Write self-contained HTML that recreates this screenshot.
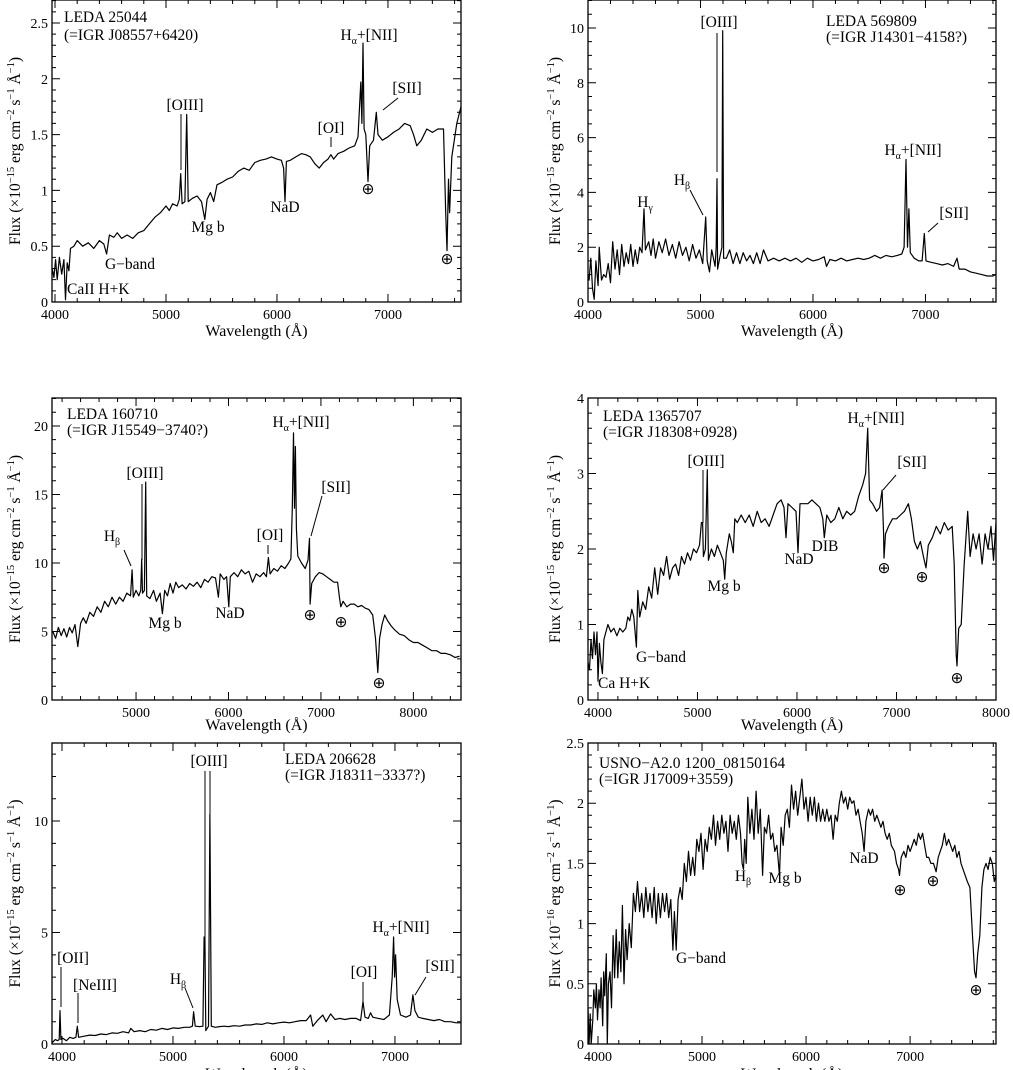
<!DOCTYPE html>
<html><head><meta charset="utf-8"><title>Optical spectra of six galaxies</title>
<style>
html,body{margin:0;padding:0;background:#fff;}
svg{display:block;}
text{font-family:"Liberation Serif",serif;fill:#000;}
.ann{font-size:15.5px;}
.tick{font-size:14px;}
.axt{font-size:16px;}
.yaxt{font-size:15.5px;}
</style></head>
<body>
<svg id="fig" width="1013" height="1070" viewBox="0 0 1013 1070" xmlns="http://www.w3.org/2000/svg">
<defs>
<clipPath id="c1"><rect x="52" y="0" width="409" height="302"/></clipPath>
<clipPath id="c2"><rect x="588" y="0" width="408" height="302"/></clipPath>
<clipPath id="c3"><rect x="52" y="398" width="409" height="302"/></clipPath>
<clipPath id="c4"><rect x="588" y="398" width="408" height="302"/></clipPath>
<clipPath id="c5"><rect x="52" y="743" width="409" height="301"/></clipPath>
<clipPath id="c6"><rect x="588" y="743" width="408" height="301"/></clipPath>
</defs>
<g id="axes"></g>
<g id="annotations" stroke="#000" stroke-width="1" fill="none">
<g>
<text class="ann" x="64" y="22" stroke="none">LEDA 25044</text>
<text class="ann" x="64" y="40" stroke="none">(=IGR J08557+6420)</text>
<text class="ann" x="185" y="110" text-anchor="middle" stroke="none">[OIII]</text>
<line x1="181" y1="114" x2="181" y2="170"/>
<text class="ann" x="208" y="232" text-anchor="middle" stroke="none">Mg b</text>
<text class="ann" x="285" y="212" text-anchor="middle" stroke="none">NaD</text>
<text class="ann" x="331" y="133" text-anchor="middle" stroke="none">[OI]</text>
<line x1="331" y1="137" x2="331" y2="147"/>
<text class="ann" x="369" y="40" text-anchor="middle" stroke="none">H<tspan font-size="10" dy="4">α</tspan><tspan dy="-4">+[NII]</tspan></text>
<text class="ann" x="407" y="93" text-anchor="middle" stroke="none">[SII]</text>
<line x1="398" y1="98" x2="383" y2="110"/>
<text class="ann" x="368" y="194" text-anchor="middle" stroke="none">⊕</text>
<text class="ann" x="447" y="264" text-anchor="middle" stroke="none">⊕</text>
<text class="ann" x="130" y="269" text-anchor="middle" stroke="none">G−band</text>
<text class="ann" x="67" y="294" stroke="none">CaII H+K</text>
</g>
<g>
<text class="ann" x="826" y="26" stroke="none">LEDA 569809</text>
<text class="ann" x="826" y="42" stroke="none">(=IGR J14301−4158?)</text>
<text class="ann" x="719" y="27" text-anchor="middle" stroke="none">[OIII]</text>
<line x1="717" y1="33" x2="717" y2="172"/>
<text class="ann" x="645" y="207" text-anchor="middle" stroke="none">H<tspan font-size="10" dy="4">γ</tspan></text>
<text class="ann" x="682" y="185" text-anchor="middle" stroke="none">H<tspan font-size="10" dy="4">β</tspan></text>
<line x1="690" y1="190" x2="703" y2="215"/>
<text class="ann" x="913" y="155" text-anchor="middle" stroke="none">H<tspan font-size="10" dy="4">α</tspan><tspan dy="-4">+[NII]</tspan></text>
<text class="ann" x="954" y="218" text-anchor="middle" stroke="none">[SII]</text>
<line x1="938" y1="223" x2="928" y2="232"/>
</g>
<g>
<text class="ann" x="67" y="419" stroke="none">LEDA 160710</text>
<text class="ann" x="67" y="435" stroke="none">(=IGR J15549−3740?)</text>
<text class="ann" x="145" y="478" text-anchor="middle" stroke="none">[OIII]</text>
<line x1="142" y1="484" x2="142" y2="560"/>
<text class="ann" x="112" y="541" text-anchor="middle" stroke="none">H<tspan font-size="10" dy="4">β</tspan></text>
<line x1="124" y1="550" x2="131" y2="566"/>
<text class="ann" x="165" y="628" text-anchor="middle" stroke="none">Mg b</text>
<text class="ann" x="230" y="618" text-anchor="middle" stroke="none">NaD</text>
<text class="ann" x="270" y="540" text-anchor="middle" stroke="none">[OI]</text>
<line x1="268" y1="545" x2="268" y2="554"/>
<text class="ann" x="301" y="427" text-anchor="middle" stroke="none">H<tspan font-size="10" dy="4">α</tspan><tspan dy="-4">+[NII]</tspan></text>
<text class="ann" x="336" y="492" text-anchor="middle" stroke="none">[SII]</text>
<line x1="322" y1="496" x2="311" y2="536"/>
<text class="ann" x="310" y="620" text-anchor="middle" stroke="none">⊕</text>
<text class="ann" x="341" y="627" text-anchor="middle" stroke="none">⊕</text>
<text class="ann" x="379" y="688" text-anchor="middle" stroke="none">⊕</text>
</g>
<g>
<text class="ann" x="603" y="421" stroke="none">LEDA 1365707</text>
<text class="ann" x="603" y="437" stroke="none">(=IGR J18308+0928)</text>
<text class="ann" x="706" y="466" text-anchor="middle" stroke="none">[OIII]</text>
<line x1="703" y1="470" x2="703" y2="523"/>
<text class="ann" x="724" y="591" text-anchor="middle" stroke="none">Mg b</text>
<text class="ann" x="799" y="564" text-anchor="middle" stroke="none">NaD</text>
<text class="ann" x="825" y="551" text-anchor="middle" stroke="none">DIB</text>
<text class="ann" x="876" y="423" text-anchor="middle" stroke="none">H<tspan font-size="10" dy="4">α</tspan><tspan dy="-4">+[NII]</tspan></text>
<text class="ann" x="912" y="467" text-anchor="middle" stroke="none">[SII]</text>
<line x1="896" y1="475" x2="883" y2="490"/>
<text class="ann" x="884" y="573" text-anchor="middle" stroke="none">⊕</text>
<text class="ann" x="922" y="582" text-anchor="middle" stroke="none">⊕</text>
<text class="ann" x="957" y="683" text-anchor="middle" stroke="none">⊕</text>
<text class="ann" x="661" y="662" text-anchor="middle" stroke="none">G−band</text>
<text class="ann" x="598" y="688" stroke="none">Ca H+K</text>
</g>
<g>
<text class="ann" x="285" y="764" stroke="none">LEDA 206628</text>
<text class="ann" x="285" y="780" stroke="none">(=IGR J18311−3337?)</text>
<text class="ann" x="209" y="766" text-anchor="middle" stroke="none">[OIII]</text>
<line x1="205" y1="771" x2="205" y2="937"/>
<line x1="210" y1="771" x2="210" y2="822"/>
<text class="ann" x="73" y="963" text-anchor="middle" stroke="none">[OII]</text>
<line x1="61" y1="967" x2="61" y2="1007"/>
<text class="ann" x="95" y="990" text-anchor="middle" stroke="none">[NeIII]</text>
<line x1="78" y1="993" x2="78" y2="1023"/>
<text class="ann" x="178" y="984" text-anchor="middle" stroke="none">H<tspan font-size="10" dy="4">β</tspan></text>
<line x1="185" y1="988" x2="193" y2="1008"/>
<text class="ann" x="364" y="977" text-anchor="middle" stroke="none">[OI]</text>
<line x1="363" y1="982" x2="363" y2="1005"/>
<text class="ann" x="401" y="932" text-anchor="middle" stroke="none">H<tspan font-size="10" dy="4">α</tspan><tspan dy="-4">+[NII]</tspan></text>
<text class="ann" x="440" y="971" text-anchor="middle" stroke="none">[SII]</text>
<line x1="426" y1="977" x2="415" y2="995"/>
</g>
<g>
<text class="ann" x="599" y="768" stroke="none">USNO−A2.0 1200_08150164</text>
<text class="ann" x="599" y="784" stroke="none">(=IGR J17009+3559)</text>
<text class="ann" x="701" y="963" text-anchor="middle" stroke="none">G−band</text>
<text class="ann" x="743" y="881" text-anchor="middle" stroke="none">H<tspan font-size="10" dy="4">β</tspan></text>
<text class="ann" x="785" y="883" text-anchor="middle" stroke="none">Mg b</text>
<text class="ann" x="864" y="863" text-anchor="middle" stroke="none">NaD</text>
<text class="ann" x="900" y="895" text-anchor="middle" stroke="none">⊕</text>
<text class="ann" x="933" y="886" text-anchor="middle" stroke="none">⊕</text>
<text class="ann" x="976" y="995" text-anchor="middle" stroke="none">⊕</text>
</g>
</g>
</svg>
<script>
const p1Wave = [3975,3990,4005,4020,4040,4060,4080,4095,4110,4125,4140,4170,4200,4250,4300,4350,4400,4440,4465,4490,4530,4560,4600,4650,4700,4750,4800,4850,4900,4950,5000,5030,5060,5100,5120,5133,5145,5170,5187,5200,5240,5280,5320,5350,5370,5400,5430,5460,5500,5550,5600,5650,5700,5750,5800,5850,5900,5950,6000,6040,6060,6072,6085,6120,6170,6220,6260,6300,6340,6380,6420,6460,6486,6510,6550,6600,6650,6700,6730,6755,6765,6775,6785,6800,6820,6835,6870,6895,6910,6950,7000,7050,7100,7150,7200,7230,7260,7300,7350,7400,7450,7500,7520,7532,7545,7555,7575,7620,7658];
const p1Flux = [0.3,0.22,0.38,0.2,0.4,0.25,0.38,0.02,0.35,0.28,0.48,0.5,0.55,0.5,0.53,0.48,0.55,0.52,0.43,0.6,0.58,0.62,0.57,0.6,0.57,0.62,0.64,0.7,0.76,0.8,0.86,0.82,0.88,0.86,0.92,1.15,0.88,0.9,1.68,0.9,0.93,0.95,0.9,0.74,0.92,0.98,0.9,1.05,1.07,1.1,1.12,1.17,1.2,1.18,1.25,1.27,1.28,1.3,1.28,1.27,1.2,0.9,1.26,1.27,1.3,1.33,1.32,1.3,1.24,1.2,1.25,1.28,1.32,1.28,1.33,1.35,1.38,1.4,1.48,1.97,1.6,2.32,1.55,1.5,1.08,1.4,1.45,1.7,1.5,1.45,1.48,1.52,1.55,1.6,1.58,1.5,1.4,1.45,1.55,1.52,1.55,1.55,0.8,0.46,1.1,0.8,1.3,1.6,1.75];
const p1XTicks = [4000,5000,6000,7000];
const p1YTicks = [0,0.5,1,1.5,2,2.5];
const p1YLabels = ['0','0.5','1','1.5','2','2.5'];
const p2Wave = [3990,4010,4025,4040,4055,4070,4090,4100,4120,4140,4160,4180,4200,4220,4240,4260,4280,4300,4320,4340,4360,4380,4400,4420,4440,4460,4480,4498,4510,4540,4560,4580,4600,4630,4660,4690,4720,4750,4780,4810,4840,4870,4900,4930,4960,4990,5020,5046,5060,5080,5100,5130,5140,5147,5152,5175,5190,5197,5205,5230,5260,5290,5320,5350,5380,5410,5440,5470,5500,5530,5560,5600,5650,5700,5750,5800,5850,5900,5950,6000,6050,6100,6120,6150,6200,6250,6300,6350,6400,6450,6500,6550,6600,6650,6700,6750,6790,6810,6827,6840,6853,6865,6900,6940,6970,6990,7005,7050,7100,7150,7200,7250,7280,7300,7350,7400,7450,7500,7550,7600,7625];
const p2Flux = [1.2,0.8,1.6,0.5,0.1,1.5,0.6,2.0,0.8,1.0,0.9,1.4,0.7,2.2,1.2,1.9,1.0,2.1,1.3,1.8,1.4,2.1,1.3,1.9,1.4,2.0,1.8,3.4,1.9,2.2,1.7,2.3,1.6,2.2,1.8,2.3,1.7,2.1,1.6,2.2,1.7,2.0,1.5,2.1,1.6,1.9,1.4,3.1,1.5,1.1,1.9,1.3,2.0,4.5,1.2,1.7,2.0,9.9,1.6,1.6,1.9,1.4,1.8,1.4,1.8,1.5,1.7,1.4,1.8,1.4,1.9,1.5,1.6,1.5,1.6,1.5,1.6,1.45,1.6,1.5,1.55,1.65,1.3,1.55,1.5,1.6,1.5,1.55,1.6,1.55,1.6,1.7,1.6,1.7,1.65,1.7,1.75,2.0,5.2,2.0,3.4,1.8,1.6,1.5,1.5,2.5,1.5,1.45,1.4,1.35,1.4,1.3,1.6,1.2,1.2,1.1,1.05,1.0,0.95,0.95,1.0];
const p2XTicks = [4000,5000,6000,7000];
const p2YTicks = [0,2,4,6,8,10];
const p2YLabels = ['0','2','4','6','8','10'];
const p3Wave = [4100,4130,4160,4190,4220,4250,4280,4310,4340,4370,4400,4430,4460,4500,4540,4580,4620,4660,4700,4740,4780,4820,4860,4900,4940,4957,4970,5000,5030,5050,5061,5070,5090,5105,5115,5150,5190,5220,5260,5285,5310,5340,5370,5400,5430,5460,5500,5540,5580,5620,5660,5700,5740,5780,5820,5860,5891,5910,5950,5980,6003,6020,6060,6100,6140,6180,6220,6260,6300,6340,6380,6410,6432,6450,6490,6530,6570,6610,6650,6675,6690,6703,6714,6724,6735,6750,6790,6830,6860,6876,6883,6900,6940,6980,7020,7060,7100,7140,7180,7200,7215,7240,7280,7320,7360,7400,7440,7480,7520,7560,7590,7615,7635,7660,7690,7720,7760,7800,7850,7900,7950,8000,8050,8100,8150,8200,8250,8300,8350,8400,8450,8500];
const p3Flux = [5.0,4.5,5.3,4.7,5.2,4.6,5.3,4.9,5.5,3.9,5.6,6.0,5.6,6.4,6.1,6.8,6.4,7.2,6.8,7.5,7.0,7.5,7.2,7.8,7.6,9.5,7.5,8.0,7.6,8.0,10.3,7.8,8.0,15.9,7.6,7.4,8.0,7.2,7.8,6.3,8.0,7.6,8.5,7.8,8.6,8.2,8.4,8.1,8.5,8.3,8.6,8.2,8.8,8.6,9.0,8.9,7.5,9.2,8.8,9.0,6.8,9.0,9.3,9.0,9.5,9.2,9.4,8.6,9.2,9.0,9.3,9.0,10.4,9.2,9.6,9.4,9.8,9.6,10.0,10.3,14.0,19.5,14.0,18.5,12.5,10.5,10.0,9.6,10.2,11.8,7.0,8.5,9.0,9.3,9.2,9.0,8.8,8.6,8.6,7.5,6.8,7.2,6.8,7.0,7.0,6.8,6.9,6.7,6.6,6.2,4.5,2.0,4.5,5.5,6.2,5.8,5.4,5.1,4.8,4.7,4.4,4.2,4.2,4.0,3.8,3.6,3.6,3.4,3.4,3.3,3.1,3.2];
const p3XTicks = [5000,6000,7000,8000];
const p3YTicks = [0,5,10,15,20];
const p3YLabels = ['0','5','10','15','20'];
const p4Wave = [3900,3915,3930,3945,3960,3975,3990,4000,4015,4030,4045,4060,4080,4100,4130,4160,4190,4220,4250,4280,4300,4320,4340,4360,4386,4400,4420,4450,4480,4510,4540,4570,4600,4630,4660,4690,4720,4750,4780,4810,4840,4870,4900,4930,4960,4990,5020,5040,5052,5060,5080,5099,5110,5140,5170,5200,5230,5260,5274,5290,5320,5340,5360,5375,5400,5440,5480,5520,5560,5600,5640,5680,5720,5760,5800,5840,5870,5890,5910,5950,5990,6010,6030,6070,6110,6150,6190,6230,6260,6275,6300,6340,6380,6420,6460,6500,6540,6580,6620,6660,6690,6711,6730,6760,6800,6830,6855,6870,6875,6890,6920,6960,7000,7040,7080,7120,7150,7180,7210,7240,7270,7297,7320,7360,7400,7440,7480,7520,7560,7580,7600,7608,7625,7650,7680,7716,7740,7770,7800,7830,7860,7890,7920,7950,7975,8000];
const p4Flux = [0.5,0.4,0.8,0.55,0.9,0.6,0.9,0.25,0.75,0.5,0.35,0.8,0.9,1.0,0.9,0.95,0.85,0.95,0.9,0.95,1.1,1.05,1.2,1.1,0.7,1.45,1.1,1.3,1.2,1.5,1.35,1.75,1.4,1.75,1.65,1.9,1.6,1.75,1.8,1.65,1.9,1.8,1.95,1.85,2.0,1.95,2.05,2.35,2.35,1.9,2.0,3.05,1.85,2.0,1.9,2.05,1.95,1.85,1.6,1.95,2.2,2.1,1.95,2.4,2.35,2.45,2.35,2.45,2.3,2.5,2.35,2.4,2.3,2.45,2.6,2.65,2.55,2.15,2.6,2.55,2.5,1.95,2.6,2.6,2.6,2.65,2.6,2.55,2.4,2.15,2.45,2.35,2.4,2.55,2.4,2.5,2.45,2.5,2.7,2.85,3.0,3.6,2.65,2.6,2.5,2.55,2.78,2.2,1.88,2.2,2.3,2.4,2.4,2.45,2.5,2.6,2.4,2.1,2.0,2.1,1.9,1.75,2.05,2.15,2.3,2.2,2.35,2.25,2.3,1.8,0.6,0.45,0.95,1.0,1.8,2.5,1.9,2.2,2.0,2.2,1.8,2.2,2.0,2.3,1.85,2.35];
const p4XTicks = [4000,5000,6000,7000,8000];
const p4YTicks = [0,1,2,3,4];
const p4YLabels = ['0','1','2','3','4'];
const p5Wave = [3910,3940,3960,3975,3982,3990,4010,4040,4070,4100,4125,4138,4150,4200,4250,4300,4350,4400,4450,4500,4550,4600,4620,4650,4700,4750,4800,4850,4900,4950,5000,5050,5100,5150,5175,5186,5200,5240,5270,5280,5288,5296,5320,5333,5345,5380,5420,5460,5500,5550,5600,5650,5700,5750,5800,5850,5900,5950,6000,6050,6100,6150,6200,6240,6260,6300,6350,6380,6420,6460,6500,6550,6600,6650,6690,6712,6730,6760,6780,6800,6850,6900,6950,6975,6988,6997,7006,7020,7050,7100,7140,7162,7180,7210,7250,7300,7350,7400,7450,7500,7550,7600];
const p5Flux = [0.05,0.2,0.15,0.2,1.5,0.2,0.25,0.15,0.3,0.25,0.3,0.8,0.3,0.35,0.4,0.38,0.45,0.42,0.5,0.48,0.55,0.5,0.7,0.55,0.6,0.55,0.65,0.62,0.7,0.65,0.72,0.7,0.75,0.75,0.8,1.45,0.8,0.78,0.8,4.8,4.8,0.6,0.8,10.3,0.8,0.75,0.78,0.8,0.78,0.82,0.8,0.85,0.85,0.9,0.88,0.95,0.9,0.95,0.98,0.95,1.0,1.05,1.05,1.3,0.8,1.05,1.3,1.0,1.35,1.1,1.15,1.1,1.15,1.15,1.05,1.9,1.2,1.15,1.4,1.2,1.15,1.1,1.3,3.0,4.8,3.0,4.0,2.0,1.3,1.2,1.3,2.2,1.5,1.2,1.15,1.1,1.05,1.1,1.0,1.0,0.95,0.95];
const p5XTicks = [4000,5000,6000,7000];
const p5YTicks = [0,5,10];
const p5YLabels = ['0','5','10'];
const p6Wave = [3904,3915,3925,3935,3950,3960,3975,3985,3995,4010,4020,4030,4045,4055,4065,4080,4090,4100,4115,4130,4145,4160,4175,4190,4205,4220,4235,4250,4265,4280,4300,4320,4340,4360,4380,4400,4420,4440,4460,4480,4500,4520,4540,4560,4580,4600,4620,4640,4660,4680,4700,4720,4735,4752,4770,4790,4810,4830,4850,4870,4890,4910,4930,4950,4970,4990,5010,5030,5050,5070,5090,5110,5130,5150,5170,5190,5210,5230,5250,5270,5290,5310,5330,5350,5370,5385,5399,5410,5425,5440,5460,5480,5500,5520,5540,5560,5582,5600,5620,5640,5660,5680,5700,5720,5745,5760,5780,5800,5820,5840,5860,5880,5900,5920,5940,5960,5980,6000,6020,6040,6060,6080,6100,6120,6140,6160,6180,6200,6220,6240,6260,6280,6300,6320,6340,6360,6380,6400,6420,6440,6460,6480,6500,6520,6540,6558,6575,6600,6620,6640,6660,6680,6700,6720,6740,6760,6780,6800,6820,6850,6870,6890,6898,6915,6940,6960,6980,7000,7020,7040,7060,7080,7100,7120,7140,7160,7180,7200,7225,7250,7270,7290,7310,7330,7350,7370,7390,7410,7430,7450,7470,7490,7510,7530,7550,7575,7600,7620,7634,7650,7670,7690,7710,7730,7750,7770,7790,7810,7826];
const p6Flux = [0.3,0.0,0.25,0.0,0.2,0.45,0.3,0.5,0.2,0.45,0.3,0.55,0.15,0.6,0.4,0.75,0.0,0.5,0.6,0.3,0.9,0.55,0.95,0.55,0.85,0.6,1.15,0.5,0.95,0.7,1.0,0.8,1.25,1.1,1.35,1.1,1.25,1.05,1.3,1.1,1.25,1.05,1.3,1.0,1.25,1.05,1.25,1.1,1.25,1.05,1.2,0.78,1.1,0.78,1.2,1.3,1.2,1.5,1.35,1.6,1.4,1.55,1.4,1.7,1.6,1.75,1.45,1.7,1.6,1.8,1.7,1.9,1.65,1.85,1.7,1.9,1.75,1.85,1.6,1.9,1.75,1.85,1.7,1.9,1.75,1.5,1.45,1.7,1.5,2.05,1.75,1.95,1.7,2.1,1.75,1.95,1.4,1.8,1.75,1.9,1.7,1.75,1.6,1.65,1.4,1.8,1.65,1.9,1.95,1.8,2.15,1.95,2.1,1.9,2.05,2.2,1.95,2.05,1.85,2.05,1.9,2.05,1.85,2.0,1.85,1.95,1.85,1.95,1.85,1.9,1.7,1.9,1.85,2.0,2.1,2.0,2.05,1.95,2.05,2.0,2.02,1.9,1.95,1.85,1.75,1.6,1.85,1.95,1.9,1.95,1.85,1.9,1.85,1.8,1.85,1.75,1.7,1.75,1.65,1.6,1.5,1.45,1.4,1.55,1.6,1.55,1.65,1.6,1.65,1.7,1.65,1.75,1.7,1.75,1.65,1.55,1.55,1.5,1.5,1.43,1.55,1.6,1.65,1.75,1.65,1.7,1.65,1.6,1.65,1.55,1.6,1.5,1.45,1.4,1.35,1.3,0.9,0.6,0.55,0.75,0.9,1.3,1.45,1.5,1.45,1.55,1.5,1.35,1.4];
const p6XTicks = [4000,5000,6000,7000];
const p6YTicks = [0,0.5,1,1.5,2,2.5];
const p6YLabels = ['0','0.5','1','1.5','2','2.5'];

const NS = 'http://www.w3.org/2000/svg';
const panels = [
 {n:1,L:52,R:461,T:0,B:302,x0:3973,x1:7658,y0:0,y1:2.706,xt:p1XTicks,xm:200,yt:p1YTicks,yl:p1YLabels,ym:0.1,w:p1Wave,f:p1Flux,xtitle:336,ytx:15,exp:'−15'},
 {n:2,L:588,R:996,T:0,B:302,x0:4000,x1:7627,y0:0,y1:11.02,xt:p2XTicks,xm:200,yt:p2YTicks,yl:p2YLabels,ym:0.5,w:p2Wave,f:p2Flux,xtitle:336,ytx:555,exp:'−15'},
 {n:3,L:52,R:461,T:398,B:700,x0:4091,x1:8515,y0:0,y1:22.04,xt:p3XTicks,xm:200,yt:p3YTicks,yl:p3YLabels,ym:1,w:p3Wave,f:p3Flux,xtitle:730,ytx:15,exp:'−15'},
 {n:4,L:588,R:996,T:398,B:700,x0:3900,x1:8000,y0:0,y1:4,xt:p4XTicks,xm:200,yt:p4YTicks,yl:p4YLabels,ym:0.2,w:p4Wave,f:p4Flux,xtitle:730,ytx:555,exp:'−15'},
 {n:5,L:52,R:461,T:743,B:1044,x0:3910,x1:7595,y0:0,y1:13.5,xt:p5XTicks,xm:200,yt:p5YTicks,yl:p5YLabels,ym:1,w:p5Wave,f:p5Flux,xtitle:1079,ytx:15,exp:'−15'},
 {n:6,L:588,R:996,T:743,B:1044,x0:3904,x1:7826,y0:0,y1:2.5,xt:p6XTicks,xm:200,yt:p6YTicks,yl:p6YLabels,ym:0.1,w:p6Wave,f:p6Flux,xtitle:1079,ytx:555,exp:'−16'}
];
const axes = document.getElementById('axes');
function mk(tag, attrs){const e=document.createElementNS(NS,tag);for(const k in attrs)e.setAttribute(k,attrs[k]);return e;}
panels.forEach(p=>{
  const sx = v => p.L + (v-p.x0)/(p.x1-p.x0)*(p.R-p.L);
  const sy = v => p.B - (v-p.y0)/(p.y1-p.y0)*(p.B-p.T);
  const g = mk('g',{});
  
  
  axes.appendChild(g);
  let d='';
  p.w.forEach((w,i)=>{d+=(i?'L':'M')+sx(w).toFixed(1)+' '+sy(p.f[i]).toFixed(1);});
  const path = mk('path',{d:d,fill:'none',stroke:'#000','stroke-width':'1.2','stroke-linejoin':'round','clip-path':'url(#c'+p.n+')'});
  
  
  g.appendChild(path);
  const fr = mk('rect',{x:p.L,y:p.T,width:p.R-p.L,height:p.B-p.T,fill:'none',stroke:'#000','stroke-width':'1.3'});
  
  
  g.appendChild(fr);
  let td='';
  const xs = Math.ceil(p.x0/p.xm)*p.xm;
  for(let v=xs; v<=p.x1; v+=p.xm){
    const X=sx(v); const len=(v%1000===0)?8:4;
    td+=`M${X} ${p.B}V${p.B-len}M${X} ${p.T}V${p.T+len}`;
  }
  const ys = Math.ceil(p.y0/p.ym-1e-9);
  for(let k=ys; k*p.ym<=p.y1+1e-9; k++){
    const v=k*p.ym; const Y=sy(v);
    const major = p.yt.some(t=>Math.abs(t-v)<1e-6);
    const len = major?8:4;
    td+=`M${p.L} ${Y}H${p.L+len}M${p.R} ${Y}H${p.R-len}`;
  }
  const tk = mk('path',{d:td,stroke:'#000','stroke-width':'1',fill:'none'});
  
  
  g.appendChild(tk);
  p.xt.forEach(v=>{
    const t=mk('text',{x:sx(v),y:p.B+17,'text-anchor':'middle',class:'tick'});
    t.textContent=v;
    
    
    g.appendChild(t);
  });
  p.yt.forEach((v,i)=>{
    const t=mk('text',{x:p.L-4,y:sy(v)+5,'text-anchor':'end',class:'tick'});
    t.textContent=p.yl[i];
    
    
    g.appendChild(t);
  });
  const xt = mk('text',{x:(p.L+p.R)/2,y:p.xtitle,'text-anchor':'middle',class:'axt'});
  xt.textContent='Wavelength (Å)';
  
  
  g.appendChild(xt);
  const cy=(p.T+p.B)/2;
  const yt = mk('text',{x:p.ytx,y:cy,'text-anchor':'middle',class:'yaxt',transform:`rotate(-90 ${p.ytx} ${cy})`,dy:'5'});
  yt.innerHTML='Flux (×10<tspan font-size="10.5" dy="-6">'+p.exp+'</tspan><tspan dy="6"> erg cm</tspan><tspan font-size="10.5" dy="-6">−2</tspan><tspan dy="6"> s</tspan><tspan font-size="10.5" dy="-6">−1</tspan><tspan dy="6"> Å</tspan><tspan font-size="10.5" dy="-6">−1</tspan><tspan dy="6">)</tspan>';
  
  
  g.appendChild(yt);
});
</script>
</body></html>
